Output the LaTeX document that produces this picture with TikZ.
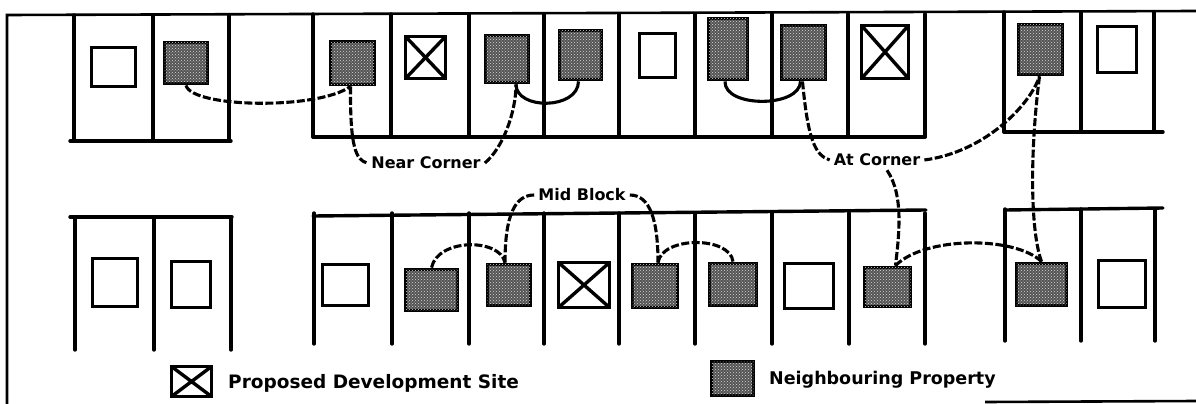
\documentclass[tikz,border=0pt]{standalone}
\usepackage{fontspec}
\setmainfont{DejaVu Sans}
\usetikzlibrary{calc,patterns}
\definecolor{stipple}{gray}{0.33}
\definecolor{speck}{gray}{0.85}
\begin{document}
\begin{tikzpicture}[x=1pt,y=-1pt,
  lotline/.style={line width=3.4pt, line cap=round},
  frameline/.style={line width=2.6pt},
  plainbox/.style={draw, line width=3.8pt, fill=white, inner sep=0pt},
  nbrbox/.style={plainbox, fill=stipple, postaction={pattern=crosshatch dots, pattern color=speck}},
  sitebox/.style={plainbox, path picture={\draw[line width=3.4pt] (path picture bounding box.north west) -- (path picture bounding box.south east) (path picture bounding box.north east) -- (path picture bounding box.south west);}},
  link/.style={line width=3.1pt, dash pattern=on 8pt off 2.5pt},
  solidlink/.style={line width=3.1pt},
  lbl/.style={font=\fontsize{16}{18}\selectfont\bfseries, inner sep=4pt},
  legtext/.style={font=\fontsize{17.5}{20}\selectfont\bfseries, anchor=west, inner sep=0pt},
]
\useasboundingbox (0,0) rectangle (1196,404);
\fill[white] (0,0) rectangle (1196,404);

% frame
\draw[frameline] (7,404) -- (7,15) -- (1196,11);
\draw[frameline] (985,402) -- (1196,401);

% top row lots
\draw[lotline] (74,15) -- (74,141) (153,15) -- (153,141) (229,15) -- (229,141) (70,141) -- (231,141);
\foreach \x in {313,391,469,544,619,695,772,848,925} \draw[lotline] (\x,14) -- (\x,137);
\draw[lotline] (313,137) -- (925,137);
\foreach \x in {1004,1081,1154} \draw[lotline] (\x,12) -- (\x,132);
\draw[lotline] (1004,132) -- (1163,132);

% bottom row lots
\draw[lotline] (70,217) -- (232,217);
\foreach \x in {75,154,231} \draw[lotline] (\x,217) -- (\x,350);
\draw[lotline] (313,216) -- (926,210);
\foreach \x in {314,392,469,544,619,695,772,849,925} \draw[lotline] (\x,213) -- (\x,344);
\draw[lotline] (1005,210) -- (1163,208);
\foreach \x in {1005,1081,1155} \draw[lotline] (\x,209) -- (\x,341);

% top row buildings
\node[plainbox, minimum width=44pt, minimum height=39pt] (T1) at (113.5,67) {};
\node[nbrbox,   minimum width=43pt, minimum height=41pt] (T2) at (186,63) {};
\node[nbrbox,   minimum width=44pt, minimum height=43pt] (T3) at (352.5,63) {};
\node[sitebox,  minimum width=40pt, minimum height=42pt] (T4) at (425.5,57.5) {};
\node[nbrbox,   minimum width=43pt, minimum height=47pt] (T5) at (507,59) {};
\node[nbrbox,   minimum width=42pt, minimum height=49pt] (T6) at (580.5,55) {};
\node[plainbox, minimum width=36pt, minimum height=44pt] (T7) at (657.5,55.5) {};
\node[nbrbox,   minimum width=39pt, minimum height=61pt] (T8) at (728,49) {};
\node[nbrbox,   minimum width=44pt, minimum height=54pt] (T9) at (803.5,52.5) {};
\node[sitebox,  minimum width=47pt, minimum height=53pt] (T10) at (885,52) {};
\node[nbrbox,   minimum width=44pt, minimum height=50pt] (T11) at (1040.5,49.5) {};
\node[plainbox, minimum width=39pt, minimum height=46pt] (T12) at (1117,49.5) {};

% bottom row buildings
\node[plainbox, minimum width=45pt, minimum height=48pt] (B1) at (115,282.5) {};
\node[plainbox, minimum width=39pt, minimum height=46pt] (B2) at (191,284.5) {};
\node[plainbox, minimum width=46pt, minimum height=41pt] (B3) at (345.5,285) {};
\node[nbrbox,   minimum width=52pt, minimum height=41pt] (B4) at (431.5,290) {};
\node[nbrbox,   minimum width=43pt, minimum height=41pt] (B5) at (509,285) {};
\node[sitebox,  minimum width=51pt, minimum height=45pt] (B6) at (584,285) {};
\node[nbrbox,   minimum width=45pt, minimum height=43pt] (B7) at (655,286) {};
\node[nbrbox,   minimum width=47pt, minimum height=42pt] (B8) at (733,284.5) {};
\node[plainbox, minimum width=49pt, minimum height=45pt] (B9) at (809,286) {};
\node[nbrbox,   minimum width=46pt, minimum height=39pt] (B10) at (887.5,287) {};
\node[nbrbox,   minimum width=50pt, minimum height=42pt] (B11) at (1041.5,284.5) {};
\node[plainbox, minimum width=47pt, minimum height=47pt] (B12) at (1122,284) {};

% labels
\node[lbl] (NC) at (426,163) {Near Corner};
\node[lbl] (AC) at (877,160) {At Corner};
\node[lbl] (MB) at (582,195) {Mid Block};

% connectors
\draw[link] (T2.south) .. controls (192,108) and (318,110) .. ([xshift=-2pt]T3.south);
\draw[link] ([xshift=-2pt]T3.south) .. controls (350,148) and (356,160) .. (NC.west);
\draw[link] (NC.east) .. controls (503,148) and (516,112) .. ([xshift=9pt]T5.south);
\draw[solidlink] ([xshift=9pt]T5.south) .. controls (516,110) and (578,110) .. ([xshift=-2pt]T6.south);
\draw[solidlink] ([xshift=-3pt]T8.south) .. controls (724,108) and (800,108) .. ([xshift=-3pt]T9.south);
\draw[link] ([xshift=-1pt]T9.south) .. controls (808,140) and (815,155) .. (AC.west);
\draw[link] (AC.east) .. controls (985,152) and (1030,105) .. ([xshift=-1pt]T11.south);
\draw[link] ([xshift=-1pt]T11.south) .. controls (1030,150) and (1030,230) .. (B11.north);
\draw[link] ([xshift=10pt]AC.south) .. controls (904,195) and (899,235) .. ([xshift=8pt]B10.north);
\draw[link] ([xshift=8pt]B10.north) .. controls (925,236) and (1015,236) .. (B11.north);
\draw[link] (MB.west) .. controls (515,195) and (505,215) .. ([xshift=-4pt]B5.north);
\draw[link] (MB.east) .. controls (650,195) and (658,220) .. ([xshift=3pt]B7.north);
\draw[link] (B4.north) .. controls (438,238) and (500,238) .. ([xshift=-4pt]B5.north);
\draw[link] ([xshift=3pt]B7.north) .. controls (662,236) and (730,236) .. (B8.north);

% legend
\node[sitebox, minimum width=40pt, minimum height=30pt] (LS) at (191.5,381.5) {};
\node[legtext, font=\fontsize{18.5}{21}\selectfont\bfseries] (LSt) at (228,383) {Proposed Development Site};
\node[nbrbox, minimum width=42pt, minimum height=34pt] (LN) at (732.5,378.5) {};
\node[legtext] (LNt) at (769,380) {Neighbouring Property};
\end{tikzpicture}
\end{document}
